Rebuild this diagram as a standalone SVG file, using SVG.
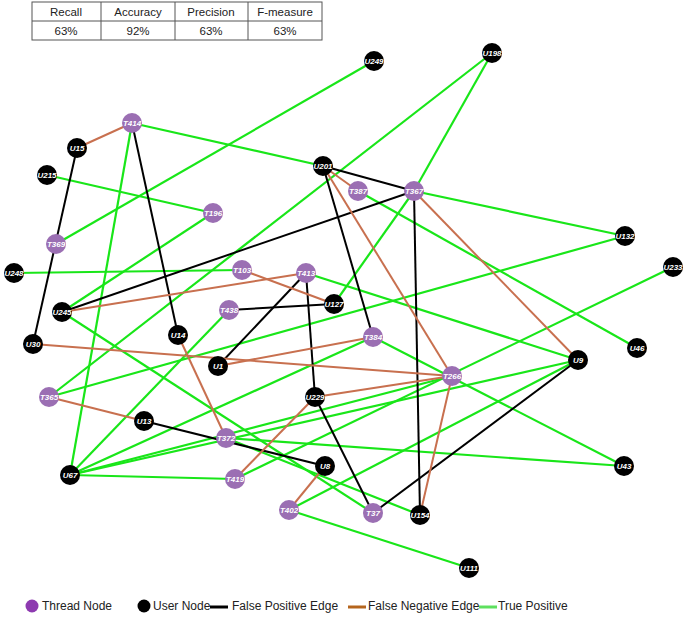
<svg xmlns="http://www.w3.org/2000/svg" width="685" height="617" viewBox="0 0 685 617">
<style>
.g{stroke:#19e619;stroke-width:2.2}
.k{stroke:#000;stroke-width:2}
.r{stroke:#c8704f;stroke-width:2}
.t{fill:#9b6fb3}
.u{fill:#000}
.n text{fill:#fff;font-family:"Liberation Sans",Arial,sans-serif;font-size:8px;font-weight:bold;font-style:italic;text-anchor:middle}
.tb{font-family:"Liberation Sans",Arial,sans-serif;font-size:11.5px;text-anchor:middle;fill:#222}
.lg{font-family:"Liberation Sans",Arial,sans-serif;font-size:12px;fill:#222}
</style>
<rect width="685" height="617" fill="#fff"/>
<g id="table" fill="none" stroke="#555" stroke-width="1">
<rect x="32" y="2" width="290" height="38"/>
<line x1="32" y1="21" x2="322" y2="21"/>
<line x1="101" y1="2" x2="101" y2="40"/><line x1="175" y1="2" x2="175" y2="40"/><line x1="248" y1="2" x2="248" y2="40"/>
</g>
<g class="tb">
<text x="66" y="16">Recall</text><text x="138" y="16">Accuracy</text><text x="211" y="16">Precision</text><text x="285" y="16">F-measure</text>
<text x="66" y="35">63%</text><text x="138" y="35">92%</text><text x="211" y="35">63%</text><text x="285" y="35">63%</text>
</g>
<g id="connectors">
<line class="g" x1="132" y1="123" x2="323" y2="166"/>
<line class="g" x1="132" y1="123" x2="70" y2="475"/>
<line class="g" x1="47" y1="175" x2="213" y2="213"/>
<line class="g" x1="56" y1="244" x2="374" y2="61"/>
<line class="g" x1="213" y1="213" x2="62" y2="312"/>
<line class="g" x1="14" y1="273" x2="242" y2="270"/>
<line class="g" x1="492" y1="53" x2="49" y2="397"/>
<line class="g" x1="49" y1="397" x2="625" y2="236"/>
<line class="g" x1="414" y1="191" x2="492" y2="53"/>
<line class="g" x1="414" y1="191" x2="625" y2="236"/>
<line class="g" x1="414" y1="191" x2="334" y2="304"/>
<line class="g" x1="358" y1="191" x2="637" y2="348"/>
<line class="g" x1="306" y1="273" x2="578" y2="360"/>
<line class="g" x1="373" y1="337" x2="624" y2="466"/>
<line class="g" x1="373" y1="337" x2="70" y2="475"/>
<line class="g" x1="229" y1="310" x2="70" y2="475"/>
<line class="g" x1="452" y1="376" x2="70" y2="475"/>
<line class="g" x1="578" y1="360" x2="70" y2="475"/>
<line class="g" x1="235" y1="479" x2="70" y2="475"/>
<line class="g" x1="673" y1="267" x2="235" y2="479"/>
<line class="g" x1="578" y1="360" x2="289" y2="510"/>
<line class="g" x1="226" y1="438" x2="624" y2="466"/>
<line class="g" x1="226" y1="438" x2="420" y2="515"/>
<line class="g" x1="62" y1="312" x2="373" y2="513"/>
<line class="g" x1="289" y1="510" x2="469" y2="568"/>
<line class="k" x1="77" y1="148" x2="33" y2="344"/>
<line class="k" x1="132" y1="123" x2="178" y2="335"/>
<line class="k" x1="323" y1="166" x2="414" y2="191"/>
<line class="k" x1="323" y1="166" x2="373" y2="337"/>
<line class="k" x1="414" y1="191" x2="62" y2="312"/>
<line class="k" x1="414" y1="191" x2="420" y2="515"/>
<line class="k" x1="306" y1="273" x2="218" y2="366"/>
<line class="k" x1="306" y1="273" x2="315" y2="397"/>
<line class="k" x1="229" y1="310" x2="334" y2="304"/>
<line class="k" x1="315" y1="397" x2="373" y2="513"/>
<line class="k" x1="144" y1="421" x2="325" y2="466"/>
<line class="k" x1="578" y1="360" x2="373" y2="513"/>
<line class="r" x1="77" y1="148" x2="132" y2="123"/>
<line class="r" x1="323" y1="166" x2="358" y2="191"/>
<line class="r" x1="323" y1="166" x2="452" y2="376"/>
<line class="r" x1="414" y1="191" x2="578" y2="360"/>
<line class="r" x1="62" y1="312" x2="306" y2="273"/>
<line class="r" x1="242" y1="270" x2="334" y2="304"/>
<line class="r" x1="33" y1="344" x2="452" y2="376"/>
<line class="r" x1="218" y1="366" x2="373" y2="337"/>
<line class="r" x1="178" y1="335" x2="226" y2="438"/>
<line class="r" x1="49" y1="397" x2="144" y2="421"/>
<line class="r" x1="315" y1="397" x2="452" y2="376"/>
<line class="r" x1="315" y1="397" x2="235" y2="479"/>
<line class="r" x1="325" y1="466" x2="289" y2="510"/>
<line class="r" x1="452" y1="376" x2="420" y2="515"/>
</g>
<g class="n">
<g id="T414"><circle class="t" cx="132" cy="123" r="10"/><text x="132" y="126">T414</text></g>
<g id="U15"><circle class="u" cx="77" cy="148" r="10"/><text x="77" y="151">U15</text></g>
<g id="U215"><circle class="u" cx="47" cy="175" r="10"/><text x="47" y="178">U215</text></g>
<g id="T196"><circle class="t" cx="213" cy="213" r="10"/><text x="213" y="216">T196</text></g>
<g id="T369"><circle class="t" cx="56" cy="244" r="10"/><text x="56" y="247">T369</text></g>
<g id="U248"><circle class="u" cx="14" cy="273" r="10"/><text x="14" y="276">U248</text></g>
<g id="T103"><circle class="t" cx="242" cy="270" r="10"/><text x="242" y="273">T103</text></g>
<g id="T413"><circle class="t" cx="306" cy="273" r="10"/><text x="306" y="276">T413</text></g>
<g id="U127"><circle class="u" cx="334" cy="304" r="10"/><text x="334" y="307">U127</text></g>
<g id="T438"><circle class="t" cx="229" cy="310" r="10"/><text x="229" y="313">T438</text></g>
<g id="U245"><circle class="u" cx="62" cy="312" r="10"/><text x="62" y="315">U245</text></g>
<g id="U14"><circle class="u" cx="178" cy="335" r="10"/><text x="178" y="338">U14</text></g>
<g id="U30"><circle class="u" cx="33" cy="344" r="10"/><text x="33" y="347">U30</text></g>
<g id="U1"><circle class="u" cx="218" cy="366" r="10"/><text x="218" y="369">U1</text></g>
<g id="T365"><circle class="t" cx="49" cy="397" r="10"/><text x="49" y="400">T365</text></g>
<g id="U13"><circle class="u" cx="144" cy="421" r="10"/><text x="144" y="424">U13</text></g>
<g id="T372"><circle class="t" cx="226" cy="438" r="10"/><text x="226" y="441">T372</text></g>
<g id="U8"><circle class="u" cx="325" cy="466" r="10"/><text x="325" y="469">U8</text></g>
<g id="U67"><circle class="u" cx="70" cy="475" r="10"/><text x="70" y="478">U67</text></g>
<g id="T419"><circle class="t" cx="235" cy="479" r="10"/><text x="235" y="482">T419</text></g>
<g id="T402"><circle class="t" cx="289" cy="510" r="10"/><text x="289" y="513">T402</text></g>
<g id="T37"><circle class="t" cx="373" cy="513" r="10"/><text x="373" y="516">T37</text></g>
<g id="U154"><circle class="u" cx="420" cy="515" r="10"/><text x="420" y="518">U154</text></g>
<g id="U111"><circle class="u" cx="469" cy="568" r="10"/><text x="469" y="571">U111</text></g>
<g id="U229"><circle class="u" cx="315" cy="397" r="10"/><text x="315" y="400">U229</text></g>
<g id="T384"><circle class="t" cx="373" cy="337" r="10"/><text x="373" y="340">T384</text></g>
<g id="T266"><circle class="t" cx="452" cy="376" r="10"/><text x="452" y="379">T266</text></g>
<g id="U9"><circle class="u" cx="578" cy="360" r="10"/><text x="578" y="363">U9</text></g>
<g id="U46"><circle class="u" cx="637" cy="348" r="10"/><text x="637" y="351">U46</text></g>
<g id="U43"><circle class="u" cx="624" cy="466" r="10"/><text x="624" y="469">U43</text></g>
<g id="U233"><circle class="u" cx="673" cy="267" r="10"/><text x="673" y="270">U233</text></g>
<g id="U132"><circle class="u" cx="625" cy="236" r="10"/><text x="625" y="239">U132</text></g>
<g id="T367"><circle class="t" cx="414" cy="191" r="10"/><text x="414" y="194">T367</text></g>
<g id="T387"><circle class="t" cx="358" cy="191" r="10"/><text x="358" y="194">T387</text></g>
<g id="U201"><circle class="u" cx="323" cy="166" r="10"/><text x="323" y="169">U201</text></g>
<g id="U249"><circle class="u" cx="374" cy="61" r="10"/><text x="374" y="64">U249</text></g>
<g id="U198"><circle class="u" cx="492" cy="53" r="10"/><text x="492" y="56">U198</text></g>
</g>
<g id="legend">
<circle cx="32" cy="606" r="6.5" fill="#8d3ab0"/><text class="lg" x="42" y="610">Thread Node</text>
<circle cx="144" cy="606" r="6.5" fill="#000"/><text class="lg" x="153" y="610">User Node</text>
<line x1="210" y1="607" x2="228" y2="607" stroke="#000" stroke-width="3"/><text class="lg" x="232" y="610">False Positive Edge</text>
<line x1="348" y1="607" x2="366" y2="607" stroke="#b5651d" stroke-width="3"/><text class="lg" x="368" y="610">False Negative Edge</text>
<line x1="479" y1="607" x2="497" y2="607" stroke="#5ee05e" stroke-width="3"/><text class="lg" x="498" y="610">True Positive</text>
</g>
</svg>
